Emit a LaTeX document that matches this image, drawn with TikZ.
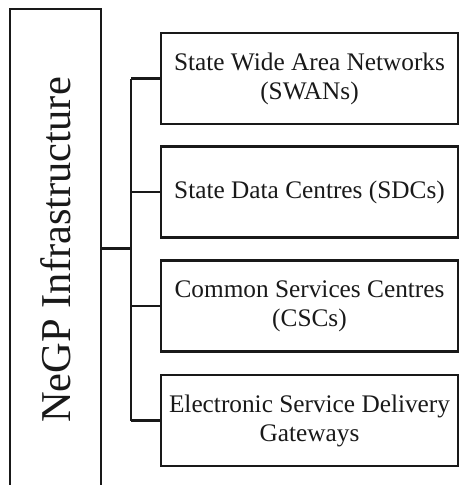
\documentclass[tikz,border=0pt]{standalone}
\usepackage{fontspec}
\setmainfont{Liberation Serif}
\begin{document}
\begin{tikzpicture}[x=1pt,y=-1pt,
  boxline/.style={draw=black!90, line width=2.2pt},
  catbox/.style={boxline, minimum width=297pt, minimum height=91pt, inner sep=0pt, align=center, font=\fontsize{25.3}{29}\selectfont, text=black!90},
  link/.style={draw=black!90, line width=2.2pt},
  trunk/.style={draw=black!90, line width=3pt}]
\useasboundingbox (0,0) rectangle (459,485);
\clip (0,0) rectangle (459,485);
\node[boxline, minimum width=91pt, minimum height=500pt, inner sep=0pt] (infra) at (55.5,259) {};
\node[rotate=90, font=\fontsize{42.5}{48}\selectfont, text=black!90, inner sep=0pt] (infralabel) at (55.5,250) {NeGP Infrastructure};
\node[catbox] (b1) at (309.5,78.5) {State Wide Area Networks\\(SWANs)};
\node[catbox] (b2) at (309.5,192) {State Data Centres (SDCs)};
\node[catbox] (b3) at (309.5,306) {Common Services Centres\\(CSCs)};
\node[catbox] (b4) at (309.5,420.5) {Electronic Service Delivery\\Gateways};
\coordinate (j) at (131,248);
\draw[trunk] (infra.east |- j) -- (j);
\draw[link] (j |- b1.west) -- (j |- b4.west);
\draw[link] (j |- b1.west) -- (b1.west);
\draw[link] (j |- b2.west) -- (b2.west);
\draw[link] (j |- b3.west) -- (b3.west);
\draw[link] (j |- b4.west) -- (b4.west);
\end{tikzpicture}
\end{document}
